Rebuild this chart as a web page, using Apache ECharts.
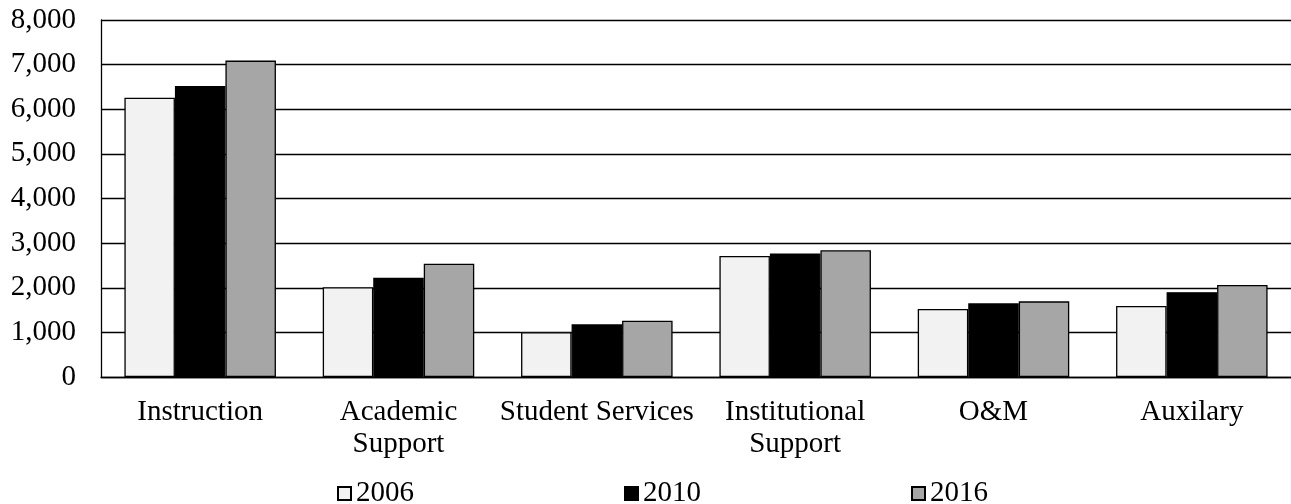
<!DOCTYPE html>
<html>
<head>
<meta charset="utf-8">
<style>
html,body{margin:0;padding:0;background:#fff;}
#chart{width:1291px;height:504px;}
</style>
<script src="https://cdn.jsdelivr.net/npm/echarts@6/dist/echarts.min.js"></script>
</head>
<body>
<div id="chart"></div>
<script>
const categories = ['Instruction', 'Academic\nSupport', 'Student Services', 'Institutional\nSupport', 'O&M', 'Auxilary'];
const seriesNames = ['2006', '2010', '2016'];
const values2006 = [6260, 2010, 1005, 2710, 1525, 1590];
const values2010 = [6520, 2225, 1180, 2770, 1650, 1900];
const values2016 = [7090, 2540, 1260, 2840, 1695, 2060];
const yTicks = { min: 0, max: 8000, interval: 1000 };

const colors = ['#f2f2f2', '#000000', '#a6a6a6'];
const font = 'Liberation Serif, Times New Roman, serif';
const fs = 29;

const chart = echarts.init(document.getElementById('chart'), null, { renderer: 'canvas' });
const allValues = [values2006, values2010, values2016];
chart.setOption({
  animation: false,
  backgroundColor: '#ffffff',
  textStyle: { fontFamily: font },
  grid: { left: 101, right: 0, top: 20, bottom: 127, containLabel: false },
  legend: {
    top: 474,
    left: 332,
    itemGap: 210,
    itemWidth: 13,
    itemHeight: 13,
    icon: 'rect',
    textStyle: { fontFamily: font, fontSize: fs, color: '#000' },
    data: seriesNames
  },
  xAxis: {
    type: 'category',
    data: categories,
    axisLine: { show: true, lineStyle: { color: '#000', width: 1.3 } },
    axisTick: { show: false },
    axisLabel: { fontFamily: font, fontSize: fs, color: '#000', margin: 19, lineHeight: 32, interval: 0 }
  },
  yAxis: {
    type: 'value',
    min: yTicks.min,
    max: yTicks.max,
    interval: yTicks.interval,
    axisLine: { show: true, lineStyle: { color: '#000', width: 1.3 } },
    axisTick: { show: false },
    splitLine: { show: true, lineStyle: { color: '#000', width: 1.3 } },
    axisLabel: {
      fontFamily: font, fontSize: fs, color: '#000', margin: 25,
      formatter: v => v.toLocaleString('en-US')
    }
  },
  series: seriesNames.map((name, i) => ({
    name: name,
    type: 'bar',
    data: allValues[i],
    barGap: '0%',
    barCategoryGap: '23.6%',
    itemStyle: { color: colors[i], borderColor: '#000', borderWidth: 1.3 }
  }))
});
</script>
</body>
</html>
